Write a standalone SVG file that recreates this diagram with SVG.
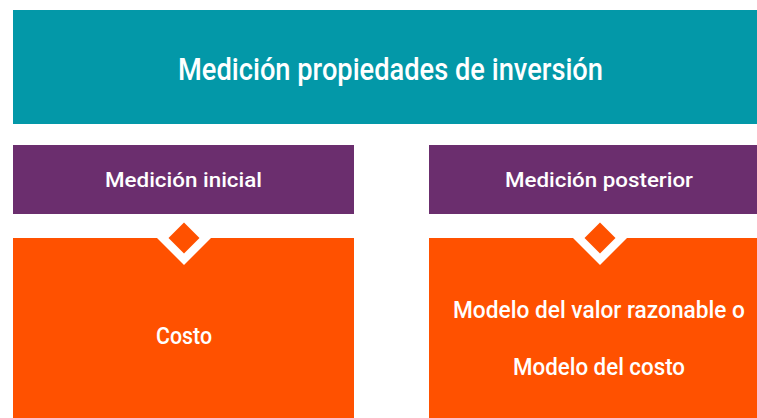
<svg xmlns="http://www.w3.org/2000/svg" width="757" height="418" viewBox="0 0 757 418">
<style>
.t{font-family:Roboto,"Liberation Sans",Arial,sans-serif;font-weight:500;fill:#ffffff;}
.teal{fill:#0398a8;}
.purple{fill:#6b2e6e;}
.orange{fill:#ff5100;}
</style>
<rect width="757" height="418" fill="#ffffff"/>
<g id="title">
<rect class="teal" x="13" y="10" width="744" height="114"/>
<text class="t" x="178" y="80" font-size="32" textLength="425" lengthAdjust="spacingAndGlyphs">Medición propiedades de inversión</text>
</g>
<g id="medicion-inicial">
<rect class="purple" x="13" y="145" width="341" height="69"/>
<text class="t" x="105" y="187" font-size="21" textLength="157" lengthAdjust="spacingAndGlyphs">Medición inicial</text>
</g>
<g id="medicion-posterior">
<rect class="purple" x="429" y="145" width="328" height="69"/>
<text class="t" x="505" y="187" font-size="21" textLength="188" lengthAdjust="spacingAndGlyphs">Medición posterior</text>
</g>
<g id="costo">
<rect class="orange" x="13" y="238" width="341" height="180"/>
<polygon points="157,238 184,265 211,238" fill="#ffffff"/>
<polygon class="orange" points="184,222.5 199.5,238 184,253.5 168.5,238"/>
<text class="t" x="156" y="343.5" font-size="23" textLength="56" lengthAdjust="spacingAndGlyphs">Costo</text>
</g>
<g id="modelo">
<rect class="orange" x="429" y="238" width="328" height="180"/>
<polygon points="573,238 600,265 627,238" fill="#ffffff"/>
<polygon class="orange" points="600,222.5 615.5,238 600,253.5 584.5,238"/>
<text class="t" transform="translate(453,318) scale(1,1.09)" x="0" y="0" font-size="22" textLength="292" lengthAdjust="spacingAndGlyphs">Modelo del valor razonable o</text>
<text class="t" transform="translate(513,374.5) scale(1,1.09)" x="0" y="0" font-size="22" textLength="172" lengthAdjust="spacingAndGlyphs">Modelo del costo</text>
</g>
<g id="connectors"></g>
</svg>
